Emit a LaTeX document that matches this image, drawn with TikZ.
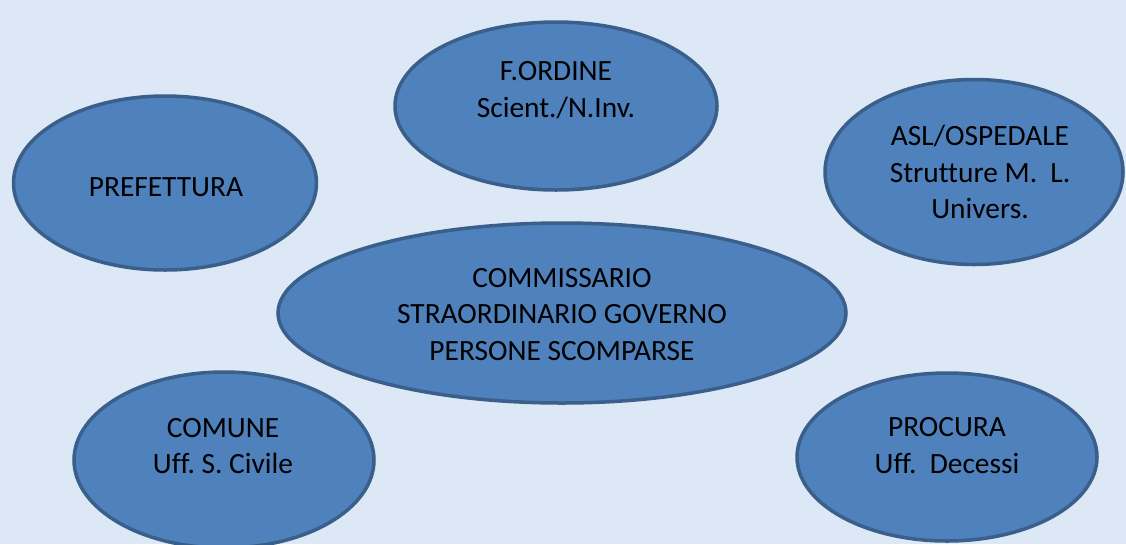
\documentclass[tikz,border=0pt]{standalone}
\usepackage{fontspec}
\setmainfont[Ligatures=NoCommon]{Carlito}
\usetikzlibrary{shapes.geometric}
\definecolor{bgblue}{HTML}{DCE8F5}
\definecolor{fillblue}{HTML}{4F81BD}
\definecolor{edgeblue}{HTML}{3A5F8B}
\tikzset{
  oval/.style={ellipse, fill=fillblue, draw=edgeblue, line width=3.5pt, inner sep=0pt},
  lbl/.style={align=center, inner sep=0pt, font=\fontsize{29.4}{36.3}\selectfont, text=black}
}
\frenchspacing
\begin{document}
\begin{tikzpicture}[x=1pt,y=-1pt]
\fill[bgblue] (0,0) rectangle (1126,544);
\useasboundingbox (0,0) rectangle (1126,544);
\begin{scope}
\clip (0,0) rectangle (1126,544);
\node[oval, minimum width=322pt, minimum height=168pt] (ford) at (556,106) {};
\node[oval, minimum width=303pt, minimum height=174pt] (pref) at (165,183) {};
\node[oval, minimum width=298pt, minimum height=185pt] (asl) at (974,172) {};
\node[oval, minimum width=568pt, minimum height=180pt] (comm) at (562,313) {};
\node[oval, minimum width=300pt, minimum height=176pt] (comu) at (224,460) {};
\node[oval, minimum width=300pt, minimum height=168pt] (proc) at (947,457) {};
\end{scope}
\node[lbl] (fordt) at (556,90) {F.ORDINE\\Scient./N.Inv.};
\node[lbl] (preft) at (166,187) {PREFETTURA};
\node[lbl] (aslt) at (980,172) {ASL/OSPEDALE\\Strutture M.\hspace{0.45em}L.\\Univers.};
\node[lbl] (commt) at (562,314.5) {COMMISSARIO\\STRAORDINARIO GOVERNO\\PERSONE SCOMPARSE};
\node[lbl] (comut) at (223,446) {COMUNE\\Uff. S. Civile};
\node[lbl] (proct) at (947,445.5) {PROCURA\\Uff.\hspace{0.45em}Decessi};
\end{tikzpicture}
\end{document}
